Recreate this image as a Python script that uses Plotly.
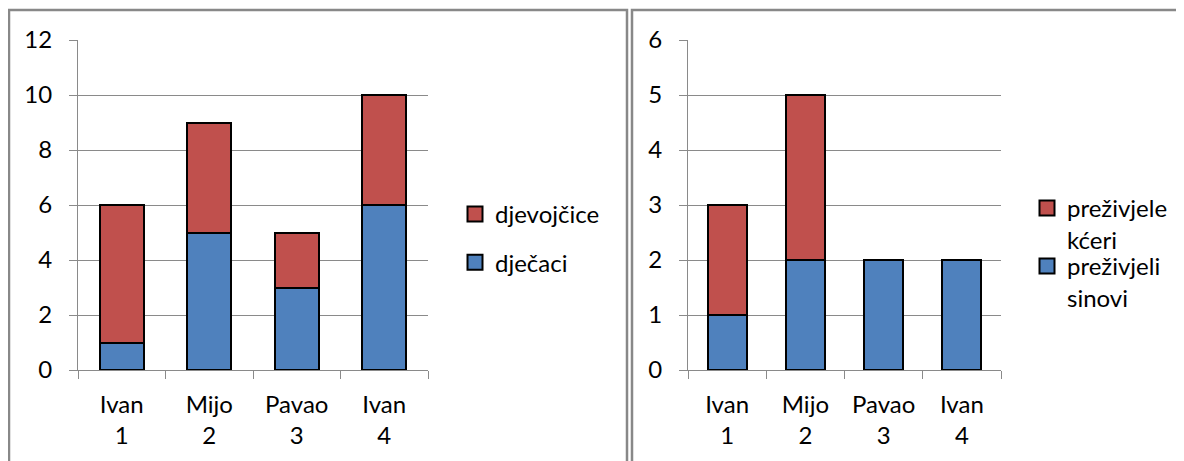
import plotly.graph_objects as go

# ---- data ----
categories = ["Ivan<br>1", "Mijo<br>2", "Pavao<br>3", "Ivan<br>4"]
djecaci = [1, 5, 3, 6]
djevojcice = [5, 4, 2, 4]
prezivjeli_sinovi = [1, 2, 2, 2]
prezivjele_kceri = [2, 3, 0, 0]
left_ticks = [0, 2, 4, 6, 8, 10, 12]
right_ticks = [0, 1, 2, 3, 4, 5, 6]

OFF = 8  # page body margin
W, H = 1176, 453
RED = "#C0504D"
BLUE = "#4F81BD"
GRID = "#8A8A8A"
FONT = "Lato"
FS = 24


def px(x):
    return (x - OFF) / W


def py(y):
    return 1 - (y - OFF) / H


fig = go.Figure()

OUT = dict(color="black", width=2)
# left chart
fig.add_trace(go.Bar(x=categories, y=djecaci, name="dječaci", marker=dict(color=BLUE, line=OUT),
                     xaxis="x", yaxis="y", showlegend=False))
fig.add_trace(go.Bar(x=categories, y=djevojcice, name="djevojčice", marker=dict(color=RED, line=OUT),
                     xaxis="x", yaxis="y", showlegend=False))
# right chart
fig.add_trace(go.Bar(x=categories, y=prezivjeli_sinovi, name="preživjeli<br>sinovi", marker=dict(color=BLUE, line=OUT),
                     xaxis="x2", yaxis="y2", showlegend=False))
fig.add_trace(go.Bar(x=categories, y=prezivjele_kceri, name="preživjele<br>kćeri", marker=dict(color=RED, line=OUT),
                     xaxis="x2", yaxis="y2", showlegend=False))


# legend entries
def leg(name, color, legend, group, xa, ya):
    fig.add_trace(go.Scatter(x=[None], y=[None], mode="markers", name=name,
                             marker=dict(symbol="square", size=15, color=color, line=dict(color="black", width=2)),
                             legend=legend, legendgroup=group, xaxis=xa, yaxis=ya))


leg("djevojčice", RED, "legend", "a1", "x", "y")
leg("dječaci", BLUE, "legend", "a2", "x", "y")
leg("preživjele<br>kćeri", RED, "legend2", "b1", "x2", "y2")
leg("preživjeli<br>sinovi", BLUE, "legend3", "b2", "x2", "y2")

axis_common = dict(showline=True, linecolor=GRID, linewidth=1, ticks="outside", tickcolor=GRID, ticklen=8,
                   tickfont=dict(family=FONT, size=FS, color="black"), zeroline=False, automargin=False)

leg_common = dict(xanchor="left", yanchor="top", font=dict(family=FONT, size=FS, color="black"),
                  bgcolor="rgba(0,0,0,0)", valign="top")

fig.update_layout(
    width=W, height=H, autosize=False,
    margin=dict(l=0, r=0, t=0, b=0, pad=0, autoexpand=False),
    paper_bgcolor="white", plot_bgcolor="white",
    barmode="stack", bargap=0.5,
    font=dict(family=FONT, size=FS, color="black"),
    xaxis=dict(domain=[px(78), px(428)], anchor="y", tickson="boundaries", ticklabelstandoff=13,
               showgrid=False, **axis_common),
    yaxis=dict(domain=[py(370), py(40)], anchor="x", range=[0, 12], tickvals=left_ticks,
               showgrid=True, gridcolor=GRID, gridwidth=1, ticklabelstandoff=12, **axis_common),
    xaxis2=dict(domain=[px(688), px(1001)], anchor="y2", tickson="boundaries", ticklabelstandoff=13,
                showgrid=False, **axis_common),
    yaxis2=dict(domain=[py(370), py(40)], anchor="x2", range=[0, 6], tickvals=right_ticks,
                showgrid=True, gridcolor=GRID, gridwidth=1, ticklabelstandoff=12, **axis_common),
    legend=dict(x=px(455), y=py(192), traceorder="grouped", tracegroupgap=14, **leg_common),
    legend2=dict(x=px(1027), y=py(186), **leg_common),
    legend3=dict(x=px(1027), y=py(244), **leg_common),
    shapes=[
        dict(type="rect", xref="paper", yref="paper", x0=px(9), x1=px(627), y0=py(480), y1=py(10),
             line=dict(color="#888888", width=2.5), layer="below"),
        dict(type="rect", xref="paper", yref="paper", x0=px(632), x1=px(1200), y0=py(480), y1=py(10),
             line=dict(color="#888888", width=2.5), layer="below"),
    ],
)

fig.write_html("out.html")
